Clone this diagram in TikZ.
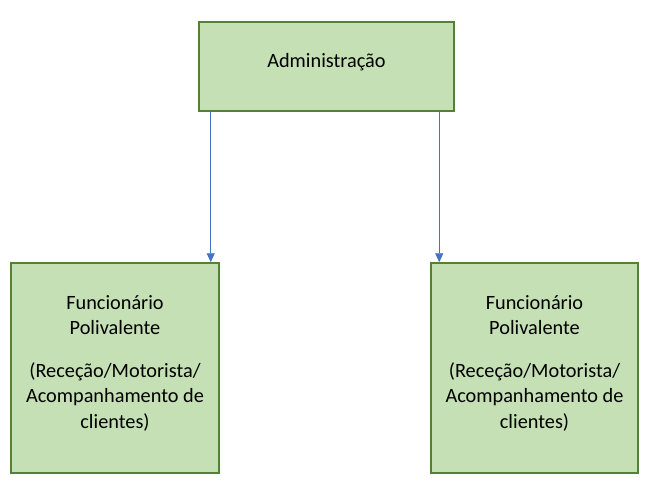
\documentclass[tikz,border=0pt]{standalone}
\usepackage{fontspec}
\setmainfont{Carlito}
\usetikzlibrary{arrows.meta, positioning}
\definecolor{boxfill}{RGB}{197, 224, 180}
\definecolor{boxline}{RGB}{84, 130, 53}
\definecolor{arrowblue}{RGB}{68, 114, 196}

\begin{document}
\begin{tikzpicture}[
    x=1pt, y=-1pt,
    orgbox/.style={draw=boxline, fill=boxfill, line width=1.5pt, text centered, align=center, font=\fontsize{20.3}{25.5}\selectfont},
    arrow/.style={-{Triangle[length=9pt, width=8pt]}, draw=arrowblue, fill=arrowblue, line width=0.9pt}
]
\useasboundingbox (0,0) rectangle (654,488);

% Top level
\node[orgbox, minimum width=255pt, minimum height=89pt] (admin) at (326.5, 66.5) {Administração\\[-13pt]};

% Second level
\node[orgbox, minimum width=208pt, minimum height=210pt] (staffA) at (115, 368) {Funcionário\\Polivalente\\[17pt](Receção/Motorista/\\Acompanhamento de\\clientes)\\[-13pt]};
\node[orgbox, minimum width=207pt, minimum height=210pt] (staffB) at (534.5, 368) {Funcionário\\Polivalente\\[17pt](Receção/Motorista/\\Acompanhamento de\\clientes)\\[-13pt]};

% Arrows
\draw[arrow] ([xshift=-9pt]staffA.north east |- admin.south) -- ([xshift=-9pt]staffA.north east);
\draw[arrow] ([xshift=9pt]staffB.north west |- admin.south) -- ([xshift=9pt]staffB.north west);

\end{tikzpicture}
\end{document}
